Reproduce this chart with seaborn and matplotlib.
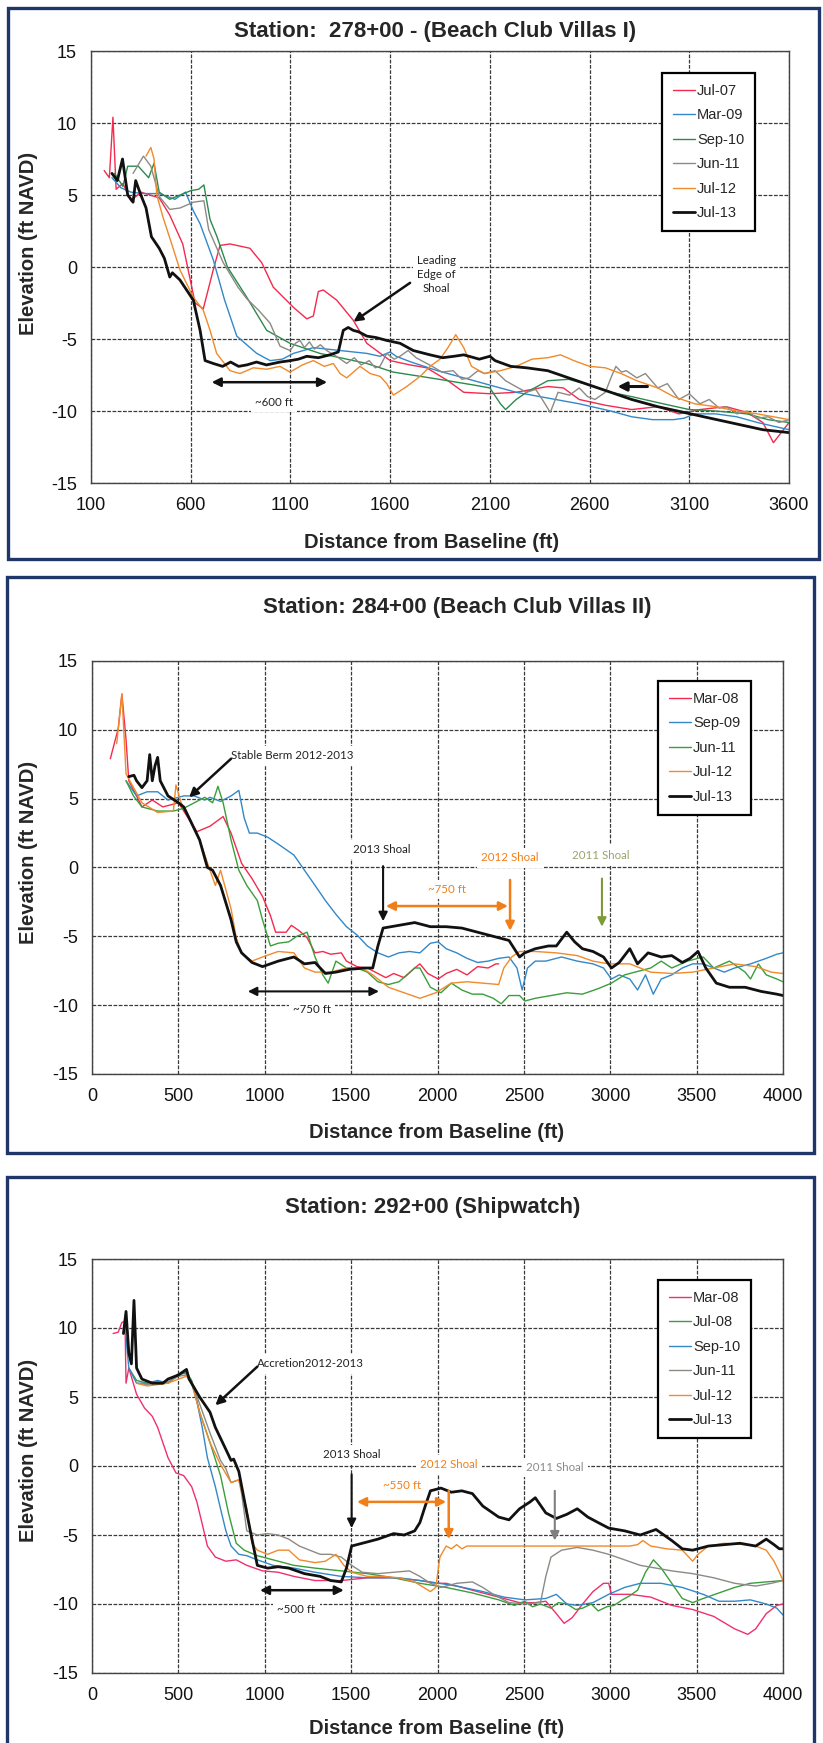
import numpy as np
import matplotlib
matplotlib.use('Agg')
import matplotlib.pyplot as plt
from matplotlib.patches import Rectangle
import seaborn as sns

sns.set_style('white')
plt.rcParams['font.family'] = ['Liberation Sans', 'DejaVu Sans']
plt.rcParams['axes.unicode_minus'] = False

W, H = 823, 1743

# ---------------- Station 278+00 ----------------
p1_names = ['Jul-07', 'Mar-09', 'Sep-10', 'Jun-11', 'Jul-12', 'Jul-13']

p1_jul07_x = [166, 192, 210, 226, 260, 300, 350, 442, 495, 560, 622, 663, 713, 747, 797, 897, 956, 1014, 1115, 1182,
              1215, 1240, 1265, 1332, 1415, 1483, 1600, 1700, 1783, 1890, 1969, 2100, 2232, 2390, 2469, 2548, 2679,
              2811, 2942, 3048, 3153, 3285, 3390, 3469, 3522, 3561, 3600]
p1_jul07_y = [6.7, 6.2, 10.4, 5.4, 5.8, 4.6, 5.2, 4.8, 3.6, 1.6, -2.5, -2.9, -0.2, 1.5, 1.6, 1.3, 0.3, -1.4, -2.8, -3.6,
              -3.4, -1.7, -1.6, -2.3, -3.7, -5.3, -6.5, -6.8, -7.0, -7.9, -8.7, -8.8, -8.7, -8.3, -8.4, -9.2, -9.6,
              -9.9, -9.7, -10.2, -9.9, -9.7, -10.1, -10.8, -12.2, -11.5, -10.8]

p1_mar09_x = [205, 250, 300, 363, 442, 521, 574, 613, 647, 713, 770, 831, 931, 998, 1060, 1115, 1215, 1349, 1483, 1549,
              1600, 1630, 1705, 1837, 1969, 2100, 2232, 2390, 2548, 2706, 2811, 2916, 3021, 3074, 3127, 3232, 3337,
              3442, 3600]
p1_mar09_y = [6.2, 5.5, 5.2, 5.1, 5.1, 4.7, 5.2, 3.9, 3.0, 0.5, -2.3, -4.8, -6.0, -6.5, -6.4, -6.0, -5.6, -5.8, -6.0,
              -6.2, -5.9, -6.2, -6.6, -7.2, -7.7, -8.2, -8.7, -9.1, -9.5, -10.0, -10.4, -10.6, -10.6, -10.5, -10.2,
              -10.2, -10.4, -10.8, -11.3]

p1_sep10_x = [218, 260, 284, 337, 389, 416, 442, 495, 547, 600, 640, 666, 697, 732, 784, 881, 981, 1098, 1248, 1483,
              1616, 1800, 1890, 2021, 2100, 2153, 2179, 2232, 2284, 2390, 2495, 2600, 2706, 2811, 2969, 3100, 3232,
              3390, 3495, 3600]
p1_sep10_y = [6.5, 5.6, 7.0, 7.0, 6.2, 7.2, 5.2, 4.7, 5.0, 5.3, 5.4, 5.7, 3.3, 2.1, 0.0, -2.1, -4.4, -5.3, -6.0, -6.7,
              -7.3, -7.7, -7.9, -8.2, -8.4, -9.5, -9.9, -9.2, -8.7, -7.9, -7.8, -8.2, -8.7, -9.0, -9.5, -9.9, -10.0,
              -10.2, -10.6, -10.8]

p1_jun11_x = [311, 363, 400, 442, 495, 547, 613, 666, 690, 763, 837, 881, 940, 998, 1048, 1098, 1125, 1148, 1170, 1195,
              1220, 1250, 1282, 1330, 1382, 1420, 1455, 1495, 1525, 1549, 1583, 1620, 1649, 1690, 1730, 1770, 1811,
              1860, 1916, 1960, 1995, 2040, 2074, 2126, 2179, 2230, 2284, 2330, 2363, 2403, 2442, 2500, 2548, 2590,
              2627, 2679, 2710, 2732, 2760, 2784, 2837, 2880, 2942, 2990, 3048, 3100, 3153, 3200, 3250, 3285, 3340,
              3390, 3440, 3495, 3550, 3600]
p1_jun11_y = [6.5, 7.7, 7.0, 4.9, 4.0, 4.1, 4.5, 4.6, 2.6, 0.3, -1.4, -2.2, -3.0, -3.9, -5.5, -5.8, -5.3, -5.1, -5.6,
              -5.2, -5.7, -5.4, -5.8, -6.2, -6.7, -6.3, -6.8, -6.5, -7.0, -6.9, -6.0, -6.4, -6.2, -5.8, -6.3, -6.6,
              -6.9, -7.3, -7.2, -7.8, -7.7, -7.2, -7.4, -7.2, -7.9, -8.3, -8.7, -8.5, -9.2, -10.1, -8.7, -8.9, -8.4,
              -9.0, -9.2, -8.7, -7.6, -6.9, -7.3, -7.2, -7.7, -7.4, -8.4, -8.1, -9.2, -8.8, -9.5, -9.2, -9.8, -9.7,
              -10.2, -10.0, -10.5, -10.4, -10.8, -10.6]

p1_jul12_x = [376, 400, 416, 430, 460, 500, 546, 613, 663, 697, 730, 797, 847, 914, 980, 1048, 1098, 1160, 1215, 1270,
              1315, 1349, 1382, 1449, 1500, 1550, 1583, 1616, 1650, 1683, 1750, 1800, 1850, 1890, 1929, 1969, 2008,
              2074, 2153, 2232, 2311, 2390, 2455, 2521, 2600, 2679, 2758, 2837, 2942, 3021, 3127, 3232, 3337, 3442,
              3522, 3600]
p1_jul12_y = [7.7, 8.3, 7.5, 5.0, 3.5, 1.8, -0.2, -2.1, -3.0, -4.4, -6.0, -7.2, -7.4, -7.0, -7.1, -6.9, -7.3, -6.8,
              -6.5, -6.9, -6.7, -7.4, -7.7, -6.9, -7.4, -7.6, -8.1, -8.9, -8.6, -8.3, -7.6, -6.9, -6.4, -5.6, -4.7,
              -5.6, -6.9, -7.4, -7.2, -6.9, -6.4, -6.3, -6.1, -6.5, -6.9, -7.0, -7.4, -7.9, -8.4, -9.0, -9.5, -9.7,
              -10.0, -10.2, -10.4, -10.6]

p1_jul13_x = [205, 232, 258, 284, 311, 324, 350, 376, 403, 442, 468, 495, 508, 546, 613, 647, 672, 713, 760, 800, 840,
              881, 930, 980, 1048, 1100, 1140, 1182, 1240, 1298, 1340, 1365, 1390, 1415, 1442, 1483, 1530, 1583, 1650,
              1716, 1800, 1863, 1920, 1969, 2047, 2100, 2126, 2205, 2284, 2390, 2495, 2600, 2706, 2811, 2942, 3074,
              3205, 3337, 3469, 3600]
p1_jul13_y = [6.5, 6.0, 7.5, 5.0, 4.5, 6.0, 5.0, 4.1, 2.1, 1.3, 0.6, -0.7, -0.4, -0.9, -2.3, -4.4, -6.5, -6.7, -6.9,
              -6.6, -6.9, -6.8, -6.6, -6.8, -6.6, -6.5, -6.4, -6.2, -6.3, -6.1, -5.9, -4.4, -4.2, -4.4, -4.5, -4.8,
              -4.9, -5.1, -5.3, -5.8, -6.1, -6.3, -6.2, -6.1, -6.4, -6.2, -6.5, -6.9, -7.0, -7.2, -7.7, -8.2, -8.7,
              -9.2, -9.7, -10.1, -10.5, -10.9, -11.3, -11.5]

# ---------------- Station 284+00 ----------------
p2_names = ['Mar-08', 'Sep-09', 'Jun-11', 'Jul-12', 'Jul-13']

p2_mar08_x = [106, 152, 173, 197, 213, 258, 289, 349, 410, 501, 531, 607, 683, 759, 805, 866, 926, 987, 1033, 1063,
              1124, 1154, 1200, 1245, 1291, 1336, 1382, 1443, 1473, 1534, 1594, 1655, 1701, 1746, 1807, 1868, 1898,
              1944, 2004, 2050, 2111, 2171, 2232, 2293, 2338, 2354]
p2_mar08_y = [7.9, 10.1, 12.6, 9.3, 6.3, 5.2, 4.4, 4.9, 4.4, 4.7, 4.1, 2.6, 3.0, 3.7, 2.5, 0.3, -0.8, -2.1, -3.5, -4.7,
              -4.7, -4.2, -4.6, -5.1, -6.2, -6.1, -6.3, -6.2, -6.8, -7.2, -7.3, -7.7, -8.0, -7.7, -8.0, -7.3, -7.0,
              -7.7, -8.1, -7.7, -7.4, -7.8, -7.2, -7.3, -7.0, -7.0]

p2_sep09_x = [197, 258, 319, 380, 440, 531, 592, 653, 683, 744, 805, 850, 881, 911, 957, 1017, 1078, 1169, 1230, 1291,
              1351, 1412, 1473, 1534, 1594, 1655, 1716, 1777, 1838, 1898, 1959, 2004, 2050, 2111, 2171, 2232, 2293,
              2354, 2414, 2460, 2490, 2521, 2566, 2627, 2718, 2809, 2900, 2961, 3007, 3052, 3113, 3158, 3204, 3249,
              3295, 3356, 3417, 3477, 3538, 3599, 3660, 3720, 3812, 3903, 3964, 4000]
p2_sep09_y = [6.3, 5.2, 5.5, 5.5, 4.9, 5.2, 5.2, 4.9, 5.1, 4.8, 5.2, 5.6, 3.6, 2.5, 2.5, 2.2, 1.7, 0.9, -0.2, -1.3,
              -2.4, -3.4, -4.3, -4.9, -5.7, -6.2, -6.5, -6.2, -6.1, -6.2, -5.5, -5.4, -5.9, -6.2, -6.6, -6.9, -6.8,
              -6.6, -6.5, -7.3, -8.9, -7.3, -6.8, -6.8, -6.5, -6.8, -7.0, -7.3, -8.1, -7.8, -8.1, -8.9, -7.8, -9.2,
              -8.1, -7.8, -7.3, -7.0, -7.0, -7.3, -7.6, -7.3, -7.0, -6.6, -6.3, -6.2]

p2_jun11_x = [197, 240, 289, 380, 471, 531, 592, 653, 698, 729, 759, 805, 850, 896, 957, 987, 1033, 1078, 1139, 1185,
              1245, 1291, 1336, 1367, 1412, 1473, 1534, 1594, 1655, 1716, 1777, 1868, 1898, 1959, 2020, 2080, 2141,
              2202, 2262, 2323, 2369, 2414, 2475, 2505, 2566, 2657, 2748, 2839, 2930, 3007, 3083, 3143, 3234, 3295,
              3356, 3447, 3538, 3599, 3690, 3781, 3812, 3857, 3903, 3964, 4000]
p2_jun11_y = [6.3, 5.2, 4.4, 4.1, 4.1, 4.3, 4.7, 5.1, 4.7, 5.9, 4.7, 2.0, -0.2, -1.3, -2.4, -3.8, -5.7, -5.5, -5.4,
              -5.0, -4.7, -6.5, -7.8, -8.4, -6.8, -7.3, -7.3, -7.6, -8.3, -8.5, -8.3, -7.3, -7.3, -8.7, -9.1, -8.4,
              -8.9, -9.2, -9.2, -9.5, -9.9, -9.3, -9.3, -9.7, -9.5, -9.3, -9.1, -9.2, -8.8, -8.4, -7.8, -7.6, -7.3,
              -6.8, -7.3, -6.8, -6.5, -7.3, -6.8, -7.6, -8.1, -7.0, -7.8, -8.1, -8.3]

p2_jul12_x = [143, 173, 197, 289, 380, 471, 486, 516, 562, 623, 683, 714, 744, 805, 835, 866, 926, 987, 1078, 1169,
              1230, 1291, 1382, 1473, 1564, 1625, 1716, 1807, 1898, 1990, 2080, 2171, 2262, 2354, 2384, 2429, 2475,
              2566, 2688, 2809, 2900, 2991, 3113, 3234, 3356, 3477, 3599, 3720, 3842, 3933, 4000]
p2_jul12_y = [9.0, 12.6, 6.8, 4.7, 4.0, 4.1, 6.0, 4.7, 3.6, 2.0, -0.2, -1.3, -0.2, -3.0, -5.1, -6.2, -6.8, -6.5,
              -6.1, -6.2, -7.3, -7.6, -7.6, -7.3, -7.3, -7.8, -8.7, -9.1, -9.5, -9.1, -8.4, -8.3, -8.4, -8.5, -7.3,
              -6.5, -6.1, -6.1, -6.2, -6.4, -6.8, -7.0, -7.0, -7.6, -7.7, -7.6, -7.3, -7.0, -7.2, -7.6, -7.7]

p2_jul13_x = [213, 243, 258, 289, 319, 334, 349, 365, 380, 395, 440, 501, 531, 562, 623, 668, 698, 744, 805, 835, 866,
              926, 987, 1078, 1169, 1230, 1291, 1351, 1412, 1488, 1579, 1625, 1655, 1685, 1777, 1868, 1959, 2050,
              2141, 2232, 2323, 2414, 2475, 2505, 2566, 2642, 2688, 2748, 2794, 2839, 2900, 2961, 3007, 3052, 3113,
              3158, 3219, 3295, 3356, 3417, 3462, 3508, 3553, 3614, 3690, 3781, 3873, 3964, 4000]
p2_jul13_y = [6.6, 6.7, 6.3, 5.8, 6.3, 8.2, 6.3, 7.4, 8.0, 6.3, 5.2, 4.7, 4.4, 3.6, 2.0, 0.0, -0.2, -1.3, -3.8, -5.4,
              -6.2, -6.9, -7.2, -6.8, -6.5, -7.0, -6.9, -7.7, -7.6, -7.4, -7.3, -7.3, -5.7, -4.4, -4.2, -4.0, -4.3,
              -4.3, -4.4, -4.7, -5.0, -5.3, -6.5, -6.2, -5.9, -5.7, -5.7, -4.7, -5.4, -5.9, -6.1, -6.5, -7.3, -6.9,
              -5.9, -7.0, -6.2, -6.5, -6.4, -6.9, -6.6, -6.1, -7.3, -8.4, -8.7, -8.7, -9.0, -9.2, -9.3]

# ---------------- Station 292+00 ----------------
p3_names = ['Mar-08', 'Jul-08', 'Sep-10', 'Jun-11', 'Jul-12', 'Jul-13']

p3_mar08_x = [122, 152, 173, 191, 197, 213, 258, 304, 349, 380, 410, 440, 486, 531, 577, 607, 638, 668, 714, 775, 835,
              896, 987, 1078, 1169, 1291, 1443, 1594, 1746, 1898, 1990, 2050, 2141, 2262, 2354, 2475, 2566, 2627,
              2688, 2733, 2779, 2840, 2900, 2961, 2991, 3007, 3113, 3234, 3356, 3477, 3599, 3720, 3796, 3842, 3903,
              3964, 4000]
p3_mar08_y = [9.6, 9.7, 10.4, 10.5, 6.0, 7.1, 5.2, 4.2, 3.6, 2.8, 1.7, 0.6, -0.5, -0.7, -1.5, -2.6, -4.2, -5.8, -6.6,
              -6.9, -6.8, -7.2, -7.6, -7.7, -8.0, -8.3, -8.3, -8.1, -8.1, -8.3, -8.5, -8.5, -8.8, -9.2, -9.5, -9.9,
              -9.9, -9.8, -10.7, -11.4, -11.0, -10.0, -9.1, -8.5, -8.5, -9.3, -9.3, -9.5, -10.1, -10.4, -10.9, -11.8,
              -12.2, -11.8, -10.7, -10.1, -10.0]

p3_jul08_x = [213, 258, 319, 380, 440, 501, 547, 577, 623, 683, 744, 790, 835, 881, 957, 1048, 1169, 1291, 1443, 1594,
              1746, 1898, 2050, 2202, 2354, 2445, 2505, 2550, 2596, 2657, 2700, 2749, 2800, 2840, 2890, 2930, 2980,
              3022, 3070, 3113, 3158, 3204, 3250, 3295, 3356, 3417, 3477, 3538, 3629, 3720, 3811, 3903, 4000]
p3_jul08_y = [7.1, 6.2, 6.0, 6.1, 6.0, 6.6, 6.8, 6.2, 3.9, 1.7, -0.7, -3.4, -5.6, -6.1, -6.5, -6.8, -7.2, -7.4, -7.6,
              -7.8, -8.1, -8.5, -8.8, -9.2, -9.7, -10.1, -9.8, -10.2, -10.0, -10.3, -9.9, -10.0, -10.4, -10.3, -10.0,
              -10.5, -10.2, -10.1, -9.7, -9.4, -9.0, -7.7, -6.8, -7.4, -8.5, -9.6, -9.9, -9.6, -9.2, -8.8, -8.5,
              -8.4, -8.3]

p3_sep10_x = [197, 213, 258, 319, 380, 440, 501, 547, 577, 607, 638, 668, 714, 744, 775, 805, 850, 896, 957, 1048,
              1169, 1291, 1443, 1594, 1777, 1959, 2111, 2262, 2384, 2505, 2627, 2688, 2749, 2809, 2900, 2991, 3083,
              3174, 3295, 3417, 3538, 3629, 3720, 3811, 3903, 3964, 4000]
p3_sep10_y = [9.3, 7.1, 6.0, 6.0, 6.2, 6.0, 6.7, 6.7, 6.0, 4.7, 2.8, 0.6, -1.5, -3.1, -4.7, -5.8, -6.4, -6.5, -6.8,
              -7.2, -7.4, -7.7, -8.0, -8.1, -8.1, -8.4, -8.7, -9.1, -9.5, -9.7, -9.6, -9.3, -10.0, -10.1, -9.9, -9.3,
              -8.8, -8.5, -8.5, -8.8, -9.3, -9.8, -9.8, -9.7, -10.0, -10.3, -10.8]

p3_jun11_x = [258, 319, 380, 440, 501, 547, 577, 623, 683, 744, 775, 805, 850, 866, 896, 957, 1017, 1078, 1139, 1200,
              1260, 1321, 1382, 1443, 1503, 1564, 1655, 1746, 1837, 1898, 1959, 2020, 2111, 2202, 2262, 2323, 2414,
              2505, 2596, 2627, 2657, 2718, 2809, 2900, 2991, 3083, 3174, 3265, 3356, 3477, 3599, 3720, 3842, 3933,
              4000]
p3_jun11_y = [6.0, 5.9, 6.0, 6.1, 6.5, 6.6, 6.1, 4.5, 2.4, 0.4, -0.2, -1.2, -1.0, -2.0, -4.7, -5.0, -4.9, -5.0, -5.3,
              -5.8, -6.1, -6.4, -6.4, -6.6, -7.2, -7.7, -7.8, -7.7, -7.6, -8.0, -8.5, -8.8, -8.5, -8.4, -8.8, -9.3,
              -9.9, -10.0, -9.9, -8.0, -6.6, -6.1, -5.9, -6.1, -6.4, -6.8, -7.2, -7.4, -7.6, -7.8, -8.1, -8.5, -8.7,
              -8.5, -8.3]

p3_jul12_x = [258, 319, 380, 440, 501, 547, 577, 623, 683, 744, 805, 850, 896, 926, 957, 1017, 1078, 1139, 1200, 1291,
              1351, 1412, 1458, 1503, 1594, 1686, 1777, 1868, 1959, 1990, 2014, 2050, 2080, 2111, 2141, 2171, 2505,
              2809, 3113, 3158, 3189, 3234, 3326, 3417, 3477, 3508, 3568, 3660, 3781, 3842, 3903, 3948, 3979, 4000]
p3_jul12_y = [6.0, 5.8, 5.9, 6.0, 6.3, 6.5, 6.0, 3.9, 1.7, 0.1, -1.2, -1.0, -3.1, -5.6, -6.1, -6.4, -6.1, -6.1, -6.8,
              -7.0, -6.9, -6.4, -7.2, -7.7, -8.0, -8.0, -8.1, -8.4, -9.1, -8.8, -6.6, -5.8, -6.0, -5.7, -6.0, -5.8,
              -5.8, -5.8, -5.8, -5.7, -5.4, -5.8, -6.0, -6.1, -6.9, -6.4, -5.8, -5.6, -5.7, -5.8, -6.1, -6.9, -7.7,
              -8.3]

p3_jul13_x = [182, 197, 213, 228, 243, 258, 289, 349, 410, 440, 501, 547, 562, 623, 683, 714, 775, 805, 820, 850, 896,
              926, 957, 1017, 1078, 1139, 1230, 1321, 1382, 1443, 1473, 1503, 1564, 1655, 1746, 1807, 1868, 1898,
              1929, 1959, 2020, 2080, 2141, 2202, 2262, 2354, 2414, 2475, 2536, 2566, 2627, 2688, 2749, 2809, 2870,
              2930, 2991, 3083, 3174, 3265, 3356, 3417, 3477, 3568, 3660, 3751, 3842, 3903, 3948, 3979, 4000]
p3_jul13_y = [9.6, 11.2, 8.2, 7.4, 12.0, 7.1, 6.3, 6.0, 6.0, 6.3, 6.6, 7.0, 6.3, 5.0, 3.9, 2.8, 1.2, 0.4, 0.5, -0.4,
              -3.4, -5.3, -7.2, -7.4, -7.3, -7.4, -7.8, -8.0, -8.3, -8.4, -7.4, -5.8, -5.6, -5.3, -4.9, -5.0, -4.7,
              -4.1, -2.9, -1.8, -1.6, -1.9, -1.8, -2.0, -2.9, -3.7, -3.9, -3.1, -2.6, -2.3, -3.4, -3.8, -3.5, -3.1,
              -3.7, -4.1, -4.5, -4.7, -5.0, -4.6, -5.4, -6.0, -6.1, -5.8, -5.7, -5.6, -5.8, -5.3, -5.7, -6.0, -6.0]

RED, PINK, BLUE = '#F42A4E', '#F0306E', '#3388C8'
GREEN, DKGREEN, GRAY = '#3A9E3A', '#2C8A4C', '#8C8A84'
ORANGE, BLACK = '#F08A2A', '#111111'

panels = [
    dict(title='Station:  278+00 - (Beach Club Villas I)', box=(91, 51, 789, 483), frame=(8, 8, 819, 559),
         xlim=(100, 3600), title_xy=(435, 31), xlab_xy=(432, 543), ylab_xy=(29, 243), leg_xy=(662, 73),
         series=[(p1_jul07_x, p1_jul07_y, RED), (p1_mar09_x, p1_mar09_y, BLUE), (p1_sep10_x, p1_sep10_y, DKGREEN),
                 (p1_jun11_x, p1_jun11_y, GRAY), (p1_jul12_x, p1_jul12_y, ORANGE), (p1_jul13_x, p1_jul13_y, BLACK)],
         names=p1_names),
    dict(title='Station: 284+00 (Beach Club Villas II)', box=(92, 661, 783, 1074), frame=(7, 577, 814, 1153),
         xlim=(0, 4000), title_xy=(457, 608), xlab_xy=(437, 1133), ylab_xy=(29, 852), leg_xy=(658, 681),
         series=[(p2_mar08_x, p2_mar08_y, RED), (p2_sep09_x, p2_sep09_y, BLUE), (p2_jun11_x, p2_jun11_y, GREEN),
                 (p2_jul12_x, p2_jul12_y, ORANGE), (p2_jul13_x, p2_jul13_y, BLACK)],
         names=p2_names),
    dict(title='Station: 292+00 (Shipwatch)', box=(92, 1259, 783, 1673), frame=(7, 1177, 814, 1765),
         xlim=(0, 4000), title_xy=(433, 1208), xlab_xy=(437, 1729), ylab_xy=(29, 1450), leg_xy=(658, 1280),
         series=[(p3_mar08_x, p3_mar08_y, PINK), (p3_jul08_x, p3_jul08_y, GREEN), (p3_sep10_x, p3_sep10_y, BLUE),
                 (p3_jun11_x, p3_jun11_y, GRAY), (p3_jul12_x, p3_jul12_y, ORANGE), (p3_jul13_x, p3_jul13_y, BLACK)],
         names=p3_names),
]

fig = plt.figure(figsize=(W / 100, H / 100), dpi=100)
fig.patch.set_facecolor('white')
axes = []

for p in panels:
    l, t, r, b = p['box']
    ax = fig.add_axes([l / W, 1 - b / H, (r - l) / W, (b - t) / H])
    axes.append(ax)
    for (xs, ys, c), name in zip(p['series'], p['names']):
        sns.lineplot(x=xs, y=ys, ax=ax, color=c, lw=2.0 if c == BLACK else 1.0, label=name,
                     sort=False, estimator=None)
    x0, x1 = p['xlim']
    ax.set_xlim(x0, x1)
    ax.set_ylim(-15, 15)
    ax.set_xticks(np.arange(x0, x1 + 1, 500))
    ax.set_xticks(np.arange(x0, x1 + 1, 100), minor=True)
    ax.set_yticks(np.arange(-15, 16, 5))
    ax.set_yticks(np.arange(-15, 16, 1), minor=True)
    ax.tick_params(which='both', direction='in', colors='#333333', labelcolor='#111111')
    ax.tick_params(which='major', length=6, width=1, labelsize=13, pad=10)
    ax.tick_params(which='minor', length=4, width=0.9)
    ax.set_axisbelow(True)
    ax.grid(True, which='major', ls=(0, (3, 1.2)), lw=0.9, color='#3a3a3a')
    for s in ax.spines.values():
        s.set_color('#444444')
        s.set_linewidth(1.0)
    ax.set_xlabel('')
    ax.set_ylabel('')

    fx, fy = p['leg_xy']
    leg = ax.legend(loc='upper left', bbox_to_anchor=(fx / W, 1 - fy / H), bbox_transform=fig.transFigure,
                    borderaxespad=0, fontsize=10.5, handlelength=1.5, handletextpad=0.15, labelspacing=0.72,
                    borderpad=0.75, fancybox=False, framealpha=1, edgecolor='black')
    leg.get_frame().set_linewidth(1.6)

    tx, ty = p['title_xy']
    fig.text(tx / W, 1 - ty / H, p['title'], ha='center', va='center', fontsize=16, fontweight='bold')
    lx, ly = p['xlab_xy']
    fig.text(lx / W, 1 - ly / H, 'Distance from Baseline (ft)', ha='center', va='center', fontsize=14.5,
             fontweight='bold')
    yx, yy = p['ylab_xy']
    fig.text(yx / W, 1 - yy / H, 'Elevation (ft NAVD)', ha='center', va='center', rotation=90, fontsize=14.5,
             fontweight='bold')
    fl, ft, fr, fb = p['frame']
    fig.add_artist(Rectangle((fl / W, 1 - fb / H), (fr - fl) / W, (fb - ft) / H, transform=fig.transFigure,
                             fill=False, ec='#1F3669', lw=2.4))

NOTE = dict(family=['Lato', 'DejaVu Sans'], fontsize=8.3, zorder=1.5,
            bbox=dict(fc='white', ec='none', pad=3))


def arrow(ax, tail, tip, color, both=False, lw=1.8):
    ax.annotate('', xy=tip, xytext=tail, zorder=5,
                arrowprops=dict(arrowstyle='<|-|>' if both else '-|>', color=color, lw=lw,
                                mutation_scale=13, shrinkA=0, shrinkB=0))


# panel 1 notes
ax = axes[0]
ax.text(1832, -0.5, 'Leading\nEdge of\nShoal', ha='center', va='center', color='#222222', linespacing=1.35,
        **NOTE)
arrow(ax, (1700, -1.1), (1416, -3.8), BLACK)
arrow(ax, (705, -8.0), (1284, -8.0), BLACK, both=True)
ax.text(1016, -9.4, '~600 ft', ha='center', va='center', color='#222222', **NOTE)
arrow(ax, (2890, -8.3), (2740, -8.3), BLACK, lw=2.2)

# panel 2 notes
ax = axes[1]
ax.text(805, 8.1, 'Stable Berm 2012-2013', ha='left', va='center', color='#222222', **NOTE)
arrow(ax, (805, 7.9), (562, 5.1), BLACK)
ax.text(1679, 1.3, '2013 Shoal', ha='center', va='center', color='#222222', **NOTE)
arrow(ax, (1685, 0.1), (1685, -3.9), BLACK, lw=1.5)
ax.text(2420, 0.7, '2012 Shoal', ha='center', va='center', color='#F07F1A', **NOTE)
arrow(ax, (2420, -0.9), (2420, -4.6), '#F07F1A')
ax.text(2946, 0.9, '2011 Shoal', ha='center', va='center', color='#9AA36B', **NOTE)
arrow(ax, (2952, -0.8), (2952, -4.3), '#7E9A3A', lw=1.5)
ax.text(2056, -1.6, '~750 ft', ha='center', va='center', color='#F07F1A', **NOTE)
arrow(ax, (1701, -2.8), (2408, -2.8), '#F07F1A', both=True)
arrow(ax, (902, -9.0), (1661, -9.0), BLACK, both=True, lw=1.5)
ax.text(1275, -10.3, '~750 ft', ha='center', va='center', color='#222222', **NOTE)

# panel 3 notes
ax = axes[2]
ax.text(957, 7.4, 'Accretion2012-2013', ha='left', va='center', color='#222222', **NOTE)
arrow(ax, (957, 7.2), (714, 4.4), BLACK)
ax.text(1503, 0.8, '2013 Shoal', ha='center', va='center', color='#222222', **NOTE)
arrow(ax, (1503, -0.6), (1503, -4.5), BLACK, lw=1.5)
ax.text(2065, 0.1, '2012 Shoal', ha='center', va='center', color='#F07F1A', **NOTE)
arrow(ax, (2065, -1.8), (2065, -5.3), '#F07F1A')
ax.text(2679, -0.1, '2011 Shoal', ha='center', va='center', color='#8A8A8A', **NOTE)
arrow(ax, (2679, -1.8), (2679, -5.4), '#7F7F7F', lw=1.5)
ax.text(1792, -1.4, '~550 ft', ha='center', va='center', color='#F07F1A', **NOTE)
arrow(ax, (1534, -2.6), (2050, -2.6), '#F07F1A', both=True)
arrow(ax, (972, -9.0), (1458, -9.0), BLACK, both=True)
ax.text(1184, -10.4, '~500 ft', ha='center', va='center', color='#222222', **NOTE)

fig.savefig('out.png', dpi=100, facecolor='white')
